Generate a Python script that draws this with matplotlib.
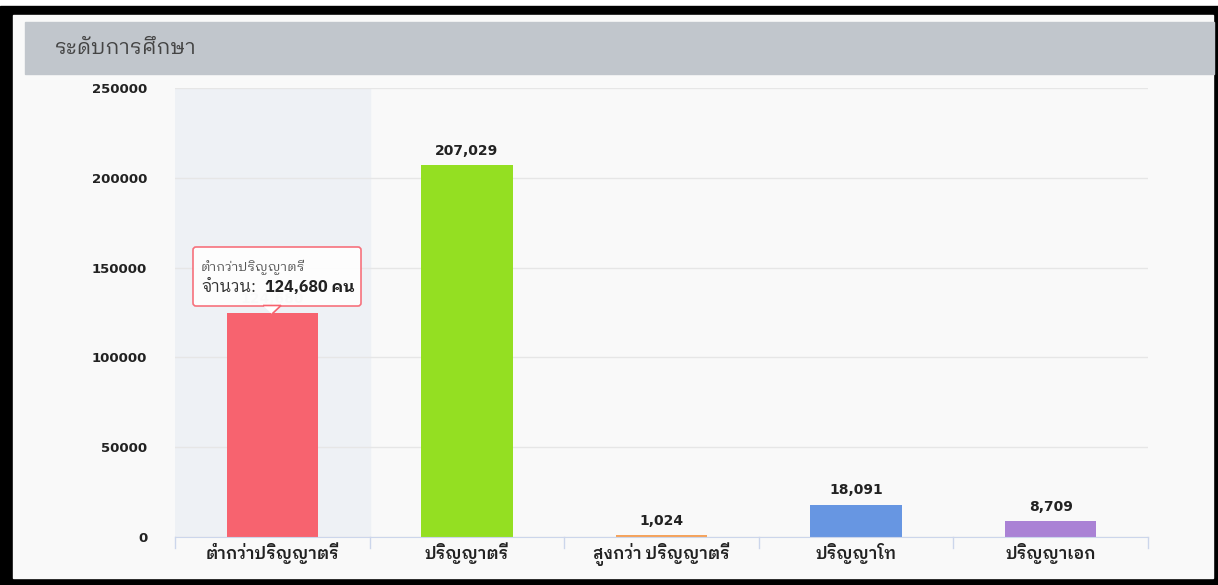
import matplotlib.pyplot as plt
from matplotlib.patches import Rectangle, FancyBboxPatch, Polygon

categories = ["ต่ำกว่าปริญญาตรี", "ปริญญาตรี", "สูงกว่า ปริญญาตรี", "ปริญญาโท", "ปริญญาเอก"]
values = [124680, 207029, 1024, 18091, 8709]
colours = ["#f7636f", "#94df22", "#f5a35c", "#6796e2", "#aa82d5"]
yticks = [0, 50000, 100000, 150000, 200000, 250000]

plt.rcParams['font.family'] = ['DejaVu Sans', 'IBM Plex Sans Thai Looped']
THAI = ['IBM Plex Sans Thai Looped', 'DejaVu Sans']

fig = plt.figure(figsize=(12.18, 5.85), dpi=100)
fig.patch.set_facecolor("white")
W, H = 1218, 585

def px(x, y, w, h):
    return (x / W, 1 - (y + h) / H, w / W, h / H)

# black frame, panel and header band
fig.patches.append(Rectangle((0, 0), 1, 1 - 6 / H, transform=fig.transFigure, color="black", zorder=-3))
x0, y0, w0, h0 = px(13, 15, 1200, 563)
fig.patches.append(Rectangle((x0, y0), w0, h0, transform=fig.transFigure, color="#f9f9f9", zorder=-2))
x0, y0, w0, h0 = px(25, 22, 1189, 52)
fig.patches.append(Rectangle((x0, y0), w0, h0, transform=fig.transFigure, color="#c1c6cc", zorder=-1))
fig.text(55 / W, 1 - 49 / H, "ระดับการศึกษา", fontsize=15, color="#444444", va="center", ha="left", family=THAI)

ax = fig.add_axes(px(175, 88, 973, 449))
ax.set_zorder(5)
ax.set_facecolor("none")
pos = list(range(len(categories)))
ax.axvspan(-0.5, 0.5, color="#eef1f5", zorder=0)
ax.bar(pos, values, width=0.47, color=colours, zorder=2)
for p, v in zip(pos, values):
    c = "#cccccc" if p == 0 else "#222222"
    ax.text(p, v + 4000, "{:,}".format(v), ha="center", va="bottom", fontsize=10, fontweight="bold",
            color=c, zorder=3)

ax.set_xlim(-0.5, len(categories) - 0.5)
ax.set_ylim(0, 250000)
ax.set_yticks(yticks)
ax.set_yticklabels([str(t) for t in yticks], fontsize=9.5, fontweight="bold", color="#222222")
ax.tick_params(axis="y", length=0, pad=20)
ax.set_xticks(pos)
ax.set_xticklabels(categories, fontsize=12, fontweight="semibold", color="#222222", family=THAI)
ax.tick_params(axis="x", length=0, pad=4)
for b in [p - 0.5 for p in pos] + [len(categories) - 0.5]:
    ax.plot([b, b], [0, -0.025], transform=ax.get_xaxis_transform(), color="#ccd6eb", lw=1, clip_on=False)
ax.grid(axis="y", color="#e6e6e6", lw=1, zorder=1)
for s in ["top", "right", "left"]:
    ax.spines[s].set_visible(False)
ax.spines["bottom"].set_color("#ccd6eb")

# tooltip over the first bar
bx, by = 193 / 100, (H - 306) / 100
box = FancyBboxPatch((bx, by), 1.68, 0.59, boxstyle="round,pad=0,rounding_size=0.03",
                     transform=fig.dpi_scale_trans, facecolor="white", edgecolor="#f7636f", lw=1.2, alpha=0.9)
ax.add_artist(box)
box.set_zorder(6)
tri = Polygon([[263 / 100, (H - 305.5) / 100], [281 / 100, (H - 305.5) / 100], [272 / 100, (H - 314) / 100]],
              closed=False, transform=fig.dpi_scale_trans, facecolor="white", edgecolor="#f7636f", lw=1.2, zorder=7)
ax.add_artist(tri)
fig.text(201 / W, 1 - 267 / H, "ต่ำกว่าปริญญาตรี", fontsize=9.5, color="#555555", va="center", ha="left",
         family=THAI, zorder=10)
fig.text(201 / W, 1 - 287 / H, "จำนวน:", fontsize=12, color="#333333", va="center", ha="left",
         family=THAI, zorder=10)
fig.text(265 / W, 1 - 287 / H, "124,680 คน", fontsize=11.5, fontweight="bold", color="#222222",
         va="center", ha="left", family=THAI, zorder=10)

fig.savefig("out.png", dpi=100)
